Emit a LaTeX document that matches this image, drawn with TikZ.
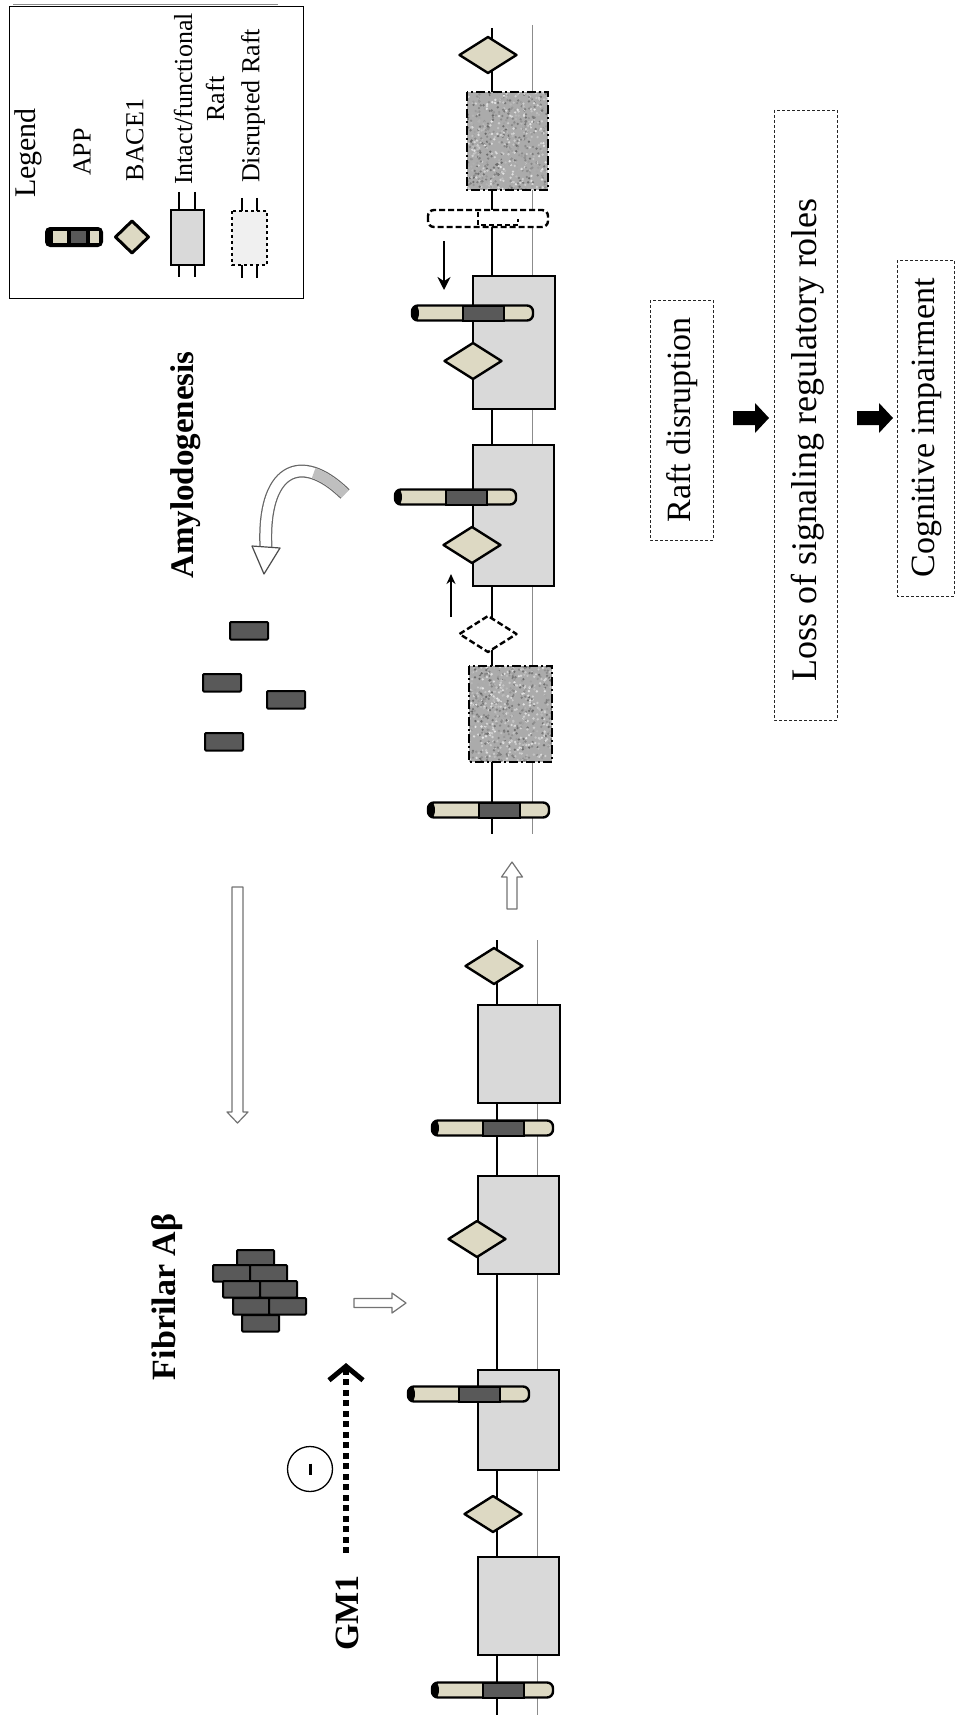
\documentclass[tikz,border=0pt]{standalone}
\usepackage{fontspec}
\setmainfont{Liberation Serif}
\usetikzlibrary{arrows.meta}

\definecolor{raftgray}{HTML}{D9D9D9}
\definecolor{beige}{HTML}{DDD9C3}
\definecolor{darkseg}{HTML}{595959}

\tikzset{
  raft/.style={draw, line width=2.6pt, fill=raftgray},
  bace/.style={draw, line width=2.4pt, fill=beige, line join=round},
  brick/.style={draw, line width=2pt, fill=darkseg, rounded corners=1pt},
  hollow/.style={draw=black!55, line width=1.2pt, fill=white, line join=round},
  flowbox/.style={draw=black!85, line width=0.9pt, dash pattern=on 3pt off 2pt},
  vlabel/.style={rotate=90, inner sep=0pt},
  memb/.style={line width=1.3pt},
  membgray/.style={line width=1pt, black!45},
}

% APP rod: left end and centre line
\newcommand\appbar[2]{%
  \begin{scope}[shift={(#1,#2)}]
    \draw[line width=2.4pt, fill=beige, rounded corners=6pt] (0,-7.5) rectangle (121,7.5);
    \draw[line width=2pt, fill=darkseg] (51,-7.5) rectangle (92,7.5);
    \fill (3.5,0) ellipse (3.5 and 7.5);
  \end{scope}}

% BACE1 diamond
\newcommand\bacesite[3][]{\draw[bace,#1] (#2,#3) +(-28.5,0) -- +(0,-18) -- +(28.5,0) -- +(0,18) -- cycle;}

% disrupted raft with grainy fill
\newcommand\noisyraft[4]{%
  \begin{scope}
    \clip (#1,#2) rectangle (#3,#4);
    \fill[black!33] (#1,#2) rectangle (#3,#4);
    \foreach \k in {1,...,700}{
      \pgfmathsetmacro\px{#1+rnd*(#3-#1)}
      \pgfmathsetmacro\py{#2+rnd*(#4-#2)}
      \pgfmathsetmacro\sh{int(10+50*rnd)}
      \fill[black!\sh] (\px,\py) circle (1.3);
    }
  \end{scope}
  \draw[line width=2.6pt, dash pattern=on 9pt off 3pt on 2pt off 3pt] (#1,#2) rectangle (#3,#4);}

\begin{document}
\begin{tikzpicture}[x=1pt, y=-1pt]
\useasboundingbox (0,0) rectangle (957,1715);
\pgfmathsetseed{7}

% legend
\draw[black!45, line width=1pt] (13,4.5) -- (278,4.5);
\draw[line width=1pt] (9,7) rectangle (303,298);
\node[vlabel, font=\fontsize{30}{32}\selectfont] (legtitle) at (28,153) {Legend};
\node[vlabel, font=\fontsize{26}{28}\selectfont] (legapp) at (82,152) {APP};
\node[vlabel, font=\fontsize{26}{28}\selectfont] (legbace) at (135,140) {BACE1};
\node[vlabel, align=center, font=\fontsize{26}{32}\selectfont] (legintact) at (199,99) {Intact/functional\\Raft};
\node[vlabel, font=\fontsize{26}{28}\selectfont] (legdisr) at (253,106) {Disrupted Raft};
\fill[rounded corners=5pt] (45,227) rectangle (103,247);
\fill[beige] (53,231) rectangle (67,243);
\fill[darkseg] (71,231) rectangle (86,243);
\fill[beige] (90,231) rectangle (99,243);
\draw[bace, line width=3pt] (132,237) +(-16.5,0) -- +(0,-16) -- +(16.5,0) -- +(0,16) -- cycle;
\draw[line width=1.3pt] (179,192) -- (179,277) (195,192) -- (195,277);
\draw[raft] (171,210) rectangle (204,265);
\draw[line width=2.4pt] (242,198) -- (242,278) (257,198) -- (257,278);
\draw[line width=2.2pt, dashed, fill=black!6] (232,211) rectangle (267,265);

% upper membrane
\draw[memb] (492,28) -- (492,834);
\draw[membgray] (532,25) -- (532,834);
\bacesite{488}{55}
\noisyraft{467}{92}{548}{190}
\draw[line width=2.4pt, dash pattern=on 6pt off 3pt, fill=white, rounded corners=6pt] (428,210) rectangle (548,227);
\draw[line width=1.8pt, dash pattern=on 5pt off 3pt] (478,212) -- (478,225) -- (518,225) -- (518,219);
\coordinate (cutin) at (444,241);
\coordinate (cutat) at (444,290);
\draw[line width=2.2pt, -{Stealth[length=13pt,width=13pt]}] (cutin) -- (cutat);
\draw[raft] (473,276) rectangle (555,409);
\appbar{412}{313}
\bacesite{473}{361}
\draw[raft] (473,445) rectangle (554,586);
\appbar{395}{497}
\bacesite{472}{545}
\coordinate (movein) at (451,617);
\coordinate (moveat) at (451,574);
\draw[line width=1.4pt, -{Stealth[length=10pt,width=9pt]}] (movein) -- (moveat);
\bacesite[dash pattern=on 6pt off 3pt, fill=white]{488}{634}
\noisyraft{469}{666}{552}{762}
\appbar{428}{810}

% step up between the two membranes
\draw[hollow] (507,909) -- (507,877) -- (501.5,877) -- (512,862) -- (522.5,877) -- (517,877) -- (517,909) -- cycle;

% lower membrane
\draw[memb] (497,940) -- (497,1715);
\draw[membgray] (537,940) -- (537,1715);
\bacesite{494}{966}
\draw[raft] (478,1005) rectangle (560,1103);
\appbar{432}{1128}
\draw[raft] (478,1176) rectangle (559,1274);
\bacesite{477}{1239}
\draw[raft] (478,1370) rectangle (559,1470);
\appbar{408}{1394}
\bacesite{493}{1514}
\draw[raft] (478,1557) rectangle (559,1655);
\appbar{432}{1690}

% monomers and amylodogenesis
\foreach \bx/\by in {230/622, 203/674, 267/691, 205/733}
  \draw[brick] (\bx,\by) rectangle ++(38,17.5);
\node[vlabel, font=\bfseries\fontsize{33}{36}\selectfont] (amylo) at (186,465) {Amylodogenesis};
\draw[line width=13pt, black!60] (345,494) .. controls (300,450) and (262,470) .. (266,548);
\draw[line width=10.5pt, white] (345,494) .. controls (300,450) and (262,470) .. (266,548);
\draw[line width=10.5pt, black!25, dash pattern=on 38pt off 400pt] (345,494) .. controls (300,450) and (262,470) .. (266,548);
\draw[hollow, draw=black!70] (252,546) -- (280,548) -- (264,574) -- cycle;

% aggregation
\draw[hollow] (232,887) -- (243,887) -- (243,1112) -- (248,1112) -- (237.5,1123) -- (227,1112) -- (232,1112) -- cycle;
\foreach \bx/\by in {237/1250, 213/1265, 250/1265, 223/1281, 260/1281, 233/1298, 269/1298, 242/1315}
  \draw[brick] (\bx,\by) rectangle ++(37,16.5);
\node[vlabel, font=\bfseries\fontsize{34}{36}\selectfont] (fibril) at (167,1297) {Fibrilar Aβ};
\draw[hollow] (354,1298.5) -- (392,1298.5) -- (392,1293) -- (406,1303) -- (392,1313) -- (392,1307.5) -- (354,1307.5) -- cycle;

% GM1 inhibition
\node[vlabel, font=\bfseries\fontsize{34}{36}\selectfont] (gmone) at (347,1613) {GM1};
\coordinate (gmtail) at (346,1553);
\coordinate (gmtip) at (346,1363);
\draw[line width=6pt, dash pattern=on 6pt off 4.5pt, -{Straight Barb[length=14pt,width=34pt,line width=5pt]}] (gmtail) -- (gmtip);
\node[circle, draw, line width=1.3pt, minimum size=45pt, inner sep=0pt] (inhib) at (310,1469) {};
\draw[line width=3pt] (inhib.center) ++(0,-5.5) -- ++(0,11);

% consequences
\draw[flowbox] (650,300) rectangle (713,540);
\node[vlabel, font=\fontsize{34}{38}\selectfont] (disrupt) at (682,420) {Raft disruption};
\fill (733,411) -- (755,411) -- (755,403) -- (769,418) -- (755,433) -- (755,425) -- (733,425) -- cycle;
\draw[flowbox] (774,110) rectangle (837,720);
\node[vlabel, font=\fontsize{36}{38}\selectfont] (signal) at (808,440) {Loss of signaling regulatory roles};
\fill (857,411) -- (879,411) -- (879,403) -- (893,418) -- (879,433) -- (879,425) -- (857,425) -- cycle;
\draw[flowbox] (897,260) rectangle (954,596);
\node[vlabel, font=\fontsize{34}{38}\selectfont] (cognit) at (927,428) {Cognitive impairment};
\end{tikzpicture}
\end{document}
